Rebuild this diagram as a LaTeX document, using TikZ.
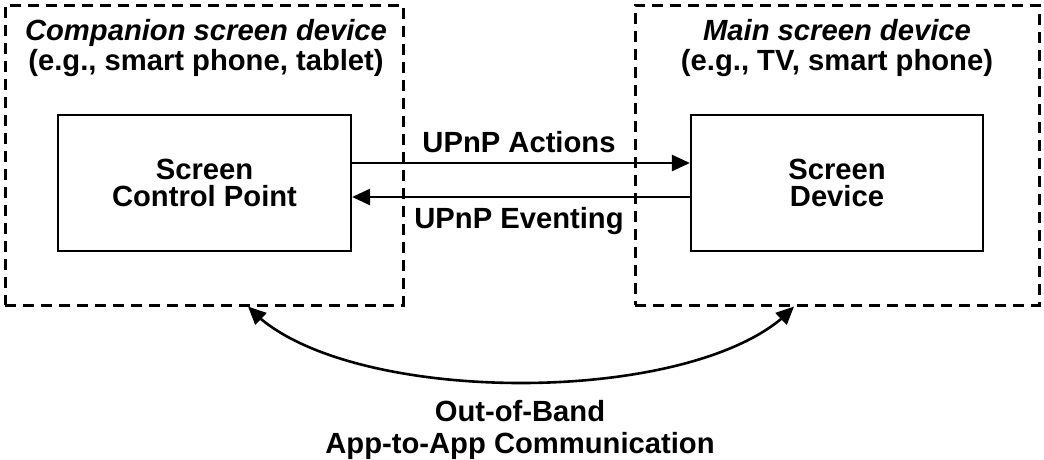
\documentclass[tikz,border=0pt]{standalone}
\usepackage{fontspec}
\setmainfont{Liberation Sans}
\usetikzlibrary{arrows.meta,bending}

\begin{document}
\begin{tikzpicture}[x=1pt,y=-1pt,
  every node/.style={font=\bfseries\fontsize{29.2}{30}\selectfont},
  devicebox/.style={draw, dash pattern=on 11pt off 7pt, line width=3pt, inner sep=0pt},
  unitbox/.style={draw, line width=2.2pt, align=center, inner sep=0pt,
    font=\bfseries\fontsize{29.2}{27.5}\selectfont},
  title/.style={align=center, inner sep=0pt, anchor=north},
  label/.style={inner sep=0pt, anchor=base},
  flow/.style={line width=2.6pt, -{Triangle[length=18pt,width=16pt]}},
  twoway/.style={line width=2.6pt,
    {Triangle[length=18pt,width=16pt]}-{Triangle[length=18pt,width=16pt]}}
]
\useasboundingbox (0,0) rectangle (1044,459);

% device frames
\node[devicebox, minimum width=398pt, minimum height=300pt] (comp) at (204,155) {};
\node[devicebox, minimum width=404pt, minimum height=300pt] (main) at (837,155) {};

% frame titles
\node[title] (compt) at (206,19.5) {\textit{Companion screen device}\\(e.g., smart phone, tablet)};
\node[title] (maint) at (837,19.5) {\textit{Main screen device}\\(e.g., TV, smart phone)};

% UPnP units
\node[unitbox, minimum width=293pt, minimum height=136pt] (scp) at (204.5,183) {Screen\\Control Point};
\node[unitbox, minimum width=292pt, minimum height=136pt] (sd) at (837,183) {Screen\\Device};

% UPnP messages
\draw[flow] ([yshift=20pt]scp.east) -- ([yshift=20pt]sd.west);
\draw[flow] ([yshift=-14pt]sd.west) -- ([yshift=-14pt]scp.east);
\node[label] (act) at (519,152) {UPnP Actions};
\node[label] (evt) at (519,228) {UPnP Eventing};

% out-of-band link between the two devices
\coordinate (pl) at ([xshift=44pt]comp.south);
\coordinate (pr) at ([xshift=-43pt]main.south);
\draw[twoway] (pl) .. controls ([xshift=90pt,yshift=-102pt]pl) and ([xshift=-90pt,yshift=-102pt]pr) .. (pr);
\node[title, font=\bfseries\fontsize{29.2}{32}\selectfont] (oob) at (520,400) {Out-of-Band\\App-to-App Communication};
\end{tikzpicture}
\end{document}
